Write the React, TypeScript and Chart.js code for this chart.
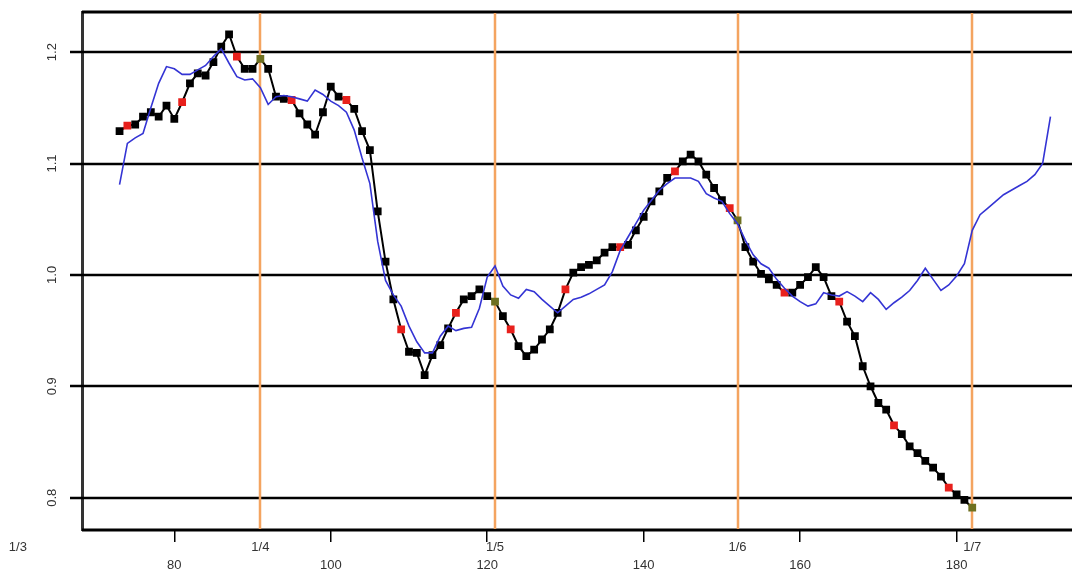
import React, { useEffect, useRef } from "react";
import { Chart, registerables } from "chart.js";

Chart.register(...registerables);

// ---- data ----
const BLACK_START = 73;
const blackValues = [
  1.129, 1.134, 1.135, 1.142, 1.146, 1.142, 1.152, 1.140, 1.155, 1.172,
  1.181, 1.179, 1.191, 1.205, 1.216, 1.196, 1.185, 1.185, 1.194, 1.185,
  1.160, 1.158, 1.157, 1.145, 1.135, 1.126, 1.146, 1.169, 1.160, 1.157,
  1.149, 1.129, 1.112, 1.057, 1.012, 0.978, 0.951, 0.931, 0.930, 0.910,
  0.928, 0.937, 0.952, 0.966, 0.978, 0.981, 0.987, 0.981, 0.976, 0.963,
  0.951, 0.936, 0.927, 0.933, 0.942, 0.951, 0.966, 0.987, 1.002, 1.007,
  1.009, 1.013, 1.020, 1.025, 1.025, 1.027, 1.040, 1.052, 1.066, 1.075,
  1.087, 1.093, 1.102, 1.108, 1.102, 1.090, 1.078, 1.067, 1.060, 1.049,
  1.025, 1.012, 1.001, 0.996, 0.991, 0.984, 0.984, 0.991, 0.998, 1.007,
  0.998, 0.981, 0.976, 0.958, 0.945, 0.918, 0.900, 0.885, 0.879, 0.865,
  0.857, 0.846, 0.840, 0.833, 0.827, 0.819, 0.809, 0.803, 0.798, 0.791,
];

const BLUE_START = 73;
const blueValues = [
  1.081, 1.118, 1.123, 1.127, 1.150, 1.172, 1.187, 1.185, 1.180, 1.180,
  1.184, 1.188, 1.196, 1.203, 1.190, 1.178, 1.175, 1.176, 1.168, 1.153,
  1.160, 1.161, 1.160, 1.158, 1.156, 1.166, 1.162, 1.156, 1.152, 1.146,
  1.130, 1.105, 1.082, 1.030, 0.995, 0.982, 0.972, 0.954, 0.940, 0.930,
  0.930, 0.945, 0.954, 0.950, 0.952, 0.953, 0.970, 0.998, 1.008, 0.990,
  0.982, 0.979, 0.987, 0.985, 0.978, 0.972, 0.966, 0.972, 0.978, 0.980,
  0.983, 0.987, 0.991, 1.003, 1.022, 1.034, 1.046, 1.058, 1.067, 1.076,
  1.082, 1.087, 1.087, 1.087, 1.084, 1.073, 1.069, 1.066, 1.055, 1.046,
  1.031, 1.018, 1.010, 1.006, 0.996, 0.988, 0.981, 0.976, 0.972, 0.974,
  0.984, 0.982, 0.981, 0.985, 0.981, 0.976, 0.984, 0.978, 0.969, 0.975,
  0.980, 0.986, 0.995, 1.006, 0.996, 0.986, 0.991, 0.999, 1.010, 1.040,
  1.054, 1.060, 1.066, 1.072, 1.076, 1.080, 1.084, 1.090, 1.100, 1.142,
];

const weeklyDays = [74, 81, 88, 95, 102, 109, 116, 123, 130, 137, 144, 151, 158, 165, 172, 179];
const monthDays = [60, 91, 121, 152, 182];
const monthLabels = ["1/3", "1/4", "1/5", "1/6", "1/7"];
const xTicks = [80, 100, 120, 140, 160, 180];
const yTicks = [0.8, 0.9, 1.0, 1.1, 1.2];
const yTickLabels = ["0.8", "0.9", "1.0", "1.1", "1.2"];

const X_MIN = 68.2;
const X_MAX = 194.05;
const Y_MIN = 0.771;
const Y_MAX = 1.236;

const FONT = '"Liberation Sans", Arial, sans-serif';

export default function App() {
  const ref = useRef<HTMLCanvasElement | null>(null);

  useEffect(() => {
    if (!ref.current) return;

    const blackData = blackValues.map((v, i) => ({ x: BLACK_START + i, y: v }));
    const blueData = blueValues.map((v, i) => ({ x: BLUE_START + i, y: v }));
    const blackColors = blackData.map((p) =>
      monthDays.includes(p.x) ? "#6e7020" : weeklyDays.includes(p.x) ? "#e8201c" : "#000000"
    );

    const decor = {
      id: "decor",
      beforeDatasetsDraw(chart: any) {
        const { ctx, chartArea, scales } = chart;
        ctx.save();
        ctx.strokeStyle = "#000";
        ctx.lineWidth = 2.5;
        yTicks.forEach((v) => {
          const py = Math.round(scales.y.getPixelForValue(v));
          ctx.beginPath();
          ctx.moveTo(chartArea.left - 12, py);
          ctx.lineTo(chart.width, py);
          ctx.stroke();
        });
        ctx.lineWidth = 3;
        ctx.beginPath();
        ctx.moveTo(chartArea.left, chartArea.top);
        ctx.lineTo(chart.width, chartArea.top);
        ctx.moveTo(chartArea.left, chartArea.bottom);
        ctx.lineTo(chart.width, chartArea.bottom);
        ctx.stroke();
        ctx.strokeStyle = "#F4A460";
        ctx.lineWidth = 2.5;
        monthDays.forEach((d) => {
          if (d < X_MIN) return;
          const px = Math.round(scales.x.getPixelForValue(d));
          ctx.beginPath();
          ctx.moveTo(px, chartArea.top + 1);
          ctx.lineTo(px, chartArea.bottom - 1);
          ctx.stroke();
        });
        ctx.restore();
      },
      afterDraw(chart: any) {
        const { ctx, scales } = chart;
        ctx.save();
        ctx.fillStyle = "#333";
        ctx.font = "13px " + FONT;
        ctx.textAlign = "center";
        ctx.textBaseline = "middle";
        yTicks.forEach((v, i) => {
          const py = scales.y.getPixelForValue(v);
          ctx.save();
          ctx.translate(52, py);
          ctx.rotate(-Math.PI / 2);
          ctx.fillText(yTickLabels[i], 0, 0);
          ctx.restore();
        });
        monthDays.forEach((d, i) => {
          const px = scales.x.getPixelForValue(d);
          ctx.fillText(monthLabels[i], px, 547);
        });
        ctx.restore();
      },
    };

    const chart = new Chart(ref.current, {
      type: "line",
      data: {
        datasets: [
          {
            label: "blue",
            data: blueData,
            borderColor: "#3434d4",
            borderWidth: 1.6,
            pointRadius: 0,
            tension: 0,
            fill: false,
          },
          {
            label: "black",
            data: blackData,
            borderColor: "#000000",
            borderWidth: 2,
            pointStyle: "rect",
            pointRadius: 5.5,
            pointBorderWidth: 0,
            pointBackgroundColor: blackColors,
            pointBorderColor: blackColors,
            tension: 0,
            fill: false,
          },
        ],
      },
      options: {
        responsive: false,
        animation: false,
        devicePixelRatio: 1,
        layout: { padding: { top: 12, left: 0, right: 0, bottom: 0 } },
        plugins: { legend: { display: false }, tooltip: { enabled: false } },
        scales: {
          x: {
            type: "linear",
            min: X_MIN,
            max: X_MAX,
            afterBuildTicks: (s: any) => {
              s.ticks = xTicks.map((v) => ({ value: v }));
            },
            afterFit: (s: any) => {
              s.height = 44;
              s.paddingLeft = 0;
              s.paddingRight = 0;
            },
            grid: {
              drawOnChartArea: false,
              drawTicks: true,
              tickLength: 12,
              color: "#000",
              lineWidth: 1.5,
            },
            border: { display: false },
            ticks: {
              autoSkip: false,
              maxRotation: 0,
              minRotation: 0,
              padding: 16,
              color: "#333",
              font: { family: FONT, size: 13 },
              callback: (v: any) => String(v),
            },
          },
          y: {
            type: "linear",
            min: Y_MIN,
            max: Y_MAX,
            afterBuildTicks: (s: any) => {
              s.ticks = yTicks.map((v) => ({ value: v }));
            },
            afterFit: (s: any) => {
              s.width = 82;
            },
            grid: {
              drawOnChartArea: false,
              drawTicks: false,
            },
            border: { display: true, color: "#333", width: 3 },
            ticks: { display: false },
          },
        },
      },
      plugins: [decor],
    });

    return () => chart.destroy();
  }, []);

  return (
    <div style={{ position: "fixed", left: 0, top: 0, width: 1072, height: 574, background: "#fff" }}>
      <canvas ref={ref} width={1072} height={574} />
    </div>
  );
}
